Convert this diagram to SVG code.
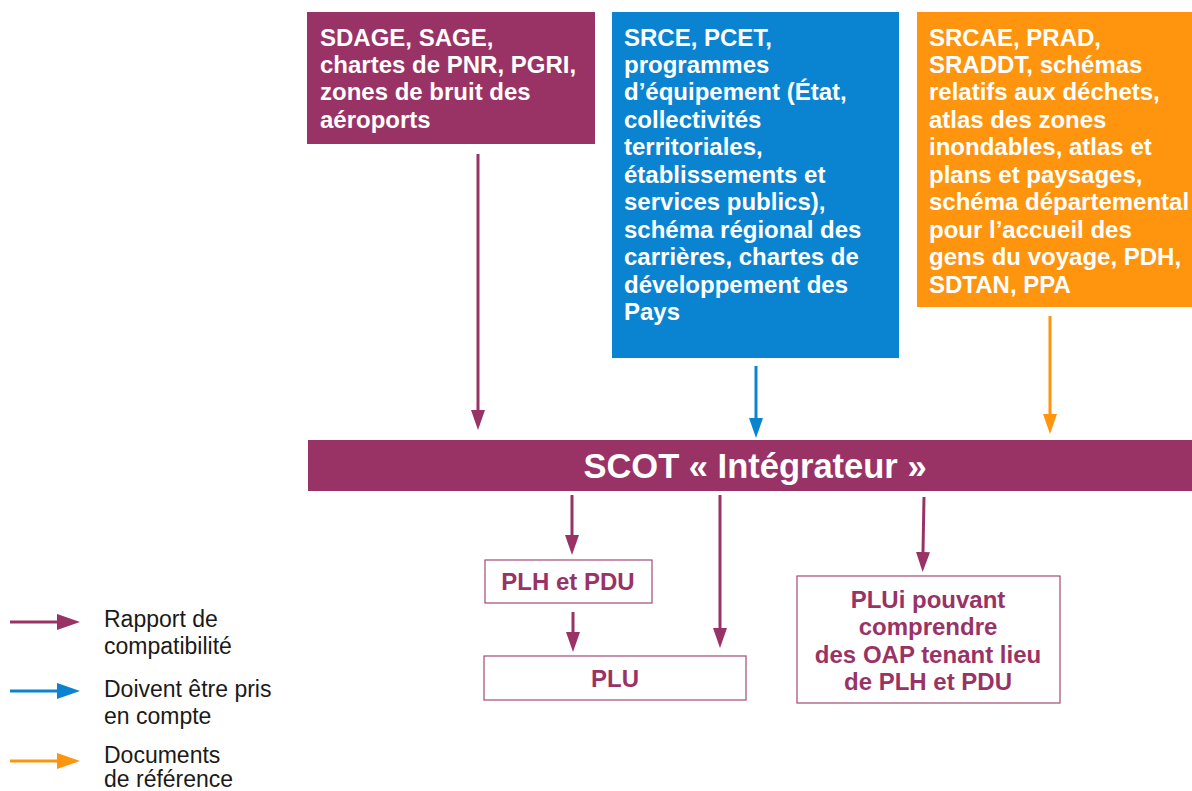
<svg xmlns="http://www.w3.org/2000/svg" width="1192" height="791" viewBox="0 0 1192 791">
<defs>
<style>
.bt{font-family:"Liberation Sans",Arial,sans-serif;font-weight:bold;font-size:24px;fill:#ffffff}
.pt{font-family:"Liberation Sans",Arial,sans-serif;font-weight:bold;font-size:24px;fill:#993366;text-anchor:middle}
.lg{font-family:"Liberation Sans",Arial,sans-serif;font-size:23px;fill:#1a1a1a}
.wb{fill:#ffffff;stroke:#a24a76;stroke-width:1.2}
.cp{stroke:#993366;stroke-width:3;fill:none}
.cb{stroke:#0a84d1;stroke-width:3;fill:none}
.co{stroke:#ff950e;stroke-width:3;fill:none}
</style>
<marker id="ap" viewBox="0 0 20 14" refX="0" refY="7" markerWidth="20" markerHeight="15" markerUnits="userSpaceOnUse" orient="auto"><path d="M0,0 L20,7 L0,14 Z" fill="#993366"/></marker>
<marker id="ab" viewBox="0 0 20 14" refX="0" refY="7" markerWidth="20" markerHeight="15" markerUnits="userSpaceOnUse" orient="auto"><path d="M0,0 L20,7 L0,14 Z" fill="#0a84d1"/></marker>
<marker id="ao" viewBox="0 0 20 14" refX="0" refY="7" markerWidth="20" markerHeight="15" markerUnits="userSpaceOnUse" orient="auto"><path d="M0,0 L20,7 L0,14 Z" fill="#ff950e"/></marker>
<marker id="lp" viewBox="0 0 20 14" refX="0" refY="7" markerWidth="23" markerHeight="17" markerUnits="userSpaceOnUse" orient="auto"><path d="M0,0 L20,7 L0,14 Z" fill="#993366"/></marker>
<marker id="lb" viewBox="0 0 20 14" refX="0" refY="7" markerWidth="23" markerHeight="17" markerUnits="userSpaceOnUse" orient="auto"><path d="M0,0 L20,7 L0,14 Z" fill="#0a84d1"/></marker>
<marker id="lo" viewBox="0 0 20 14" refX="0" refY="7" markerWidth="23" markerHeight="17" markerUnits="userSpaceOnUse" orient="auto"><path d="M0,0 L20,7 L0,14 Z" fill="#ff950e"/></marker>
</defs>
<rect width="1192" height="791" fill="#ffffff"/>

<g id="node-sdage">
<rect x="307" y="12" width="288" height="132" fill="#993366"/>
<text class="bt" x="320" y="46">SDAGE, SAGE,</text>
<text class="bt" x="320" y="73">chartes de PNR, PGRI,</text>
<text class="bt" x="320" y="100">zones de bruit des</text>
<text class="bt" x="320" y="128">aéroports</text>
</g>

<g id="node-srce">
<rect x="612" y="12" width="287" height="346" fill="#0a84d1"/>
<text class="bt" x="624" y="46">SRCE, PCET,</text>
<text class="bt" x="624" y="73">programmes</text>
<text class="bt" x="624" y="100">d’équipement (État,</text>
<text class="bt" x="624" y="128">collectivités</text>
<text class="bt" x="624" y="155">territoriales,</text>
<text class="bt" x="624" y="183">établissements et</text>
<text class="bt" x="624" y="210">services publics),</text>
<text class="bt" x="624" y="238">schéma régional des</text>
<text class="bt" x="624" y="265">carrières, chartes de</text>
<text class="bt" x="624" y="293">développement des</text>
<text class="bt" x="624" y="320">Pays</text>
</g>

<g id="node-srcae">
<rect x="917" y="12" width="280" height="295" fill="#ff950e"/>
<text class="bt" x="929" y="46">SRCAE, PRAD,</text>
<text class="bt" x="929" y="73">SRADDT, schémas</text>
<text class="bt" x="929" y="100">relatifs aux déchets,</text>
<text class="bt" x="929" y="128">atlas des zones</text>
<text class="bt" x="929" y="155">inondables, atlas et</text>
<text class="bt" x="929" y="183">plans et paysages,</text>
<text class="bt" x="929" y="210">schéma départemental</text>
<text class="bt" x="929" y="238">pour l’accueil des</text>
<text class="bt" x="929" y="265">gens du voyage, PDH,</text>
<text class="bt" x="929" y="293">SDTAN, PPA</text>
</g>

<g id="node-scot">
<rect x="308" y="440" width="890" height="51" fill="#993366"/>
<text x="755" y="478" text-anchor="middle" style="font-family:'Liberation Sans',Arial,sans-serif;font-weight:bold;font-size:34.5px;fill:#ffffff">SCOT « Intégrateur »</text>
</g>

<g id="node-plh">
<rect class="wb" x="485" y="560" width="167" height="43"/>
<text class="pt" x="568" y="590">PLH et PDU</text>
</g>

<g id="node-plu">
<rect class="wb" x="484" y="656" width="262" height="44"/>
<text class="pt" x="615" y="687">PLU</text>
</g>

<g id="node-plui">
<rect class="wb" x="797" y="576" width="263" height="127"/>
<text class="pt" x="928" y="608">PLUi pouvant</text>
<text class="pt" x="928" y="635">comprendre</text>
<text class="pt" x="928" y="663">des OAP tenant lieu</text>
<text class="pt" x="928" y="690">de PLH et PDU</text>
</g>

<g id="connectors">
<path class="cp" d="M478,154 V410" marker-end="url(#ap)"/>
<path class="cb" d="M756,366 V418" marker-end="url(#ab)"/>
<path class="co" d="M1050,316 V414" marker-end="url(#ao)"/>
<path class="cp" d="M572,495 V535" marker-end="url(#ap)"/>
<path class="cp" d="M720,495 V628" marker-end="url(#ap)"/>
<path class="cp" d="M924,497 L923,552" marker-end="url(#ap)"/>
<path class="cp" d="M573,612 V632" marker-end="url(#ap)"/>
</g>

<g id="legend">
<path class="cp" d="M10,622 H57" marker-end="url(#lp)"/>
<text class="lg" x="104" y="627">Rapport de</text>
<text class="lg" x="104" y="654">compatibilité</text>
<path class="cb" d="M10,691 H57" marker-end="url(#lb)"/>
<text class="lg" x="104" y="697">Doivent être pris</text>
<text class="lg" x="104" y="724">en compte</text>
<path class="co" d="M10,761 H57" marker-end="url(#lo)"/>
<text class="lg" x="104" y="763">Documents</text>
<text class="lg" x="104" y="787">de référence</text>
</g>
</svg>
